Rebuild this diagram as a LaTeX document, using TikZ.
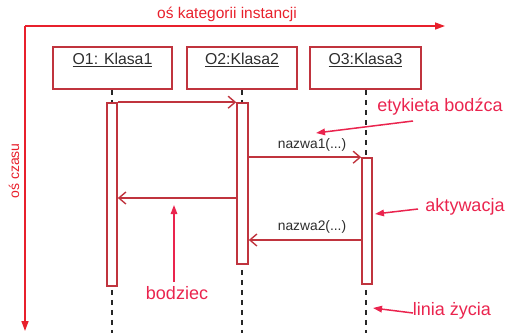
\documentclass[tikz,border=0pt]{standalone}
\usepackage{fontspec}
\setmainfont{Liberation Sans}
\usetikzlibrary{arrows.meta}
\definecolor{boxred}{RGB}{192,52,62}
\definecolor{axisred}{RGB}{232,32,44}
\definecolor{notered}{RGB}{234,36,78}
\definecolor{msgtext}{RGB}{45,45,45}
\tikzset{
  objbox/.style={draw=boxred, line width=1.6pt, fill=white, minimum width=119pt, minimum height=42pt, inner sep=0pt},
  objlabel/.style={text=msgtext, font=\fontsize{15.8}{18}\selectfont},
  actbox/.style={draw=boxred, line width=1.6pt, fill=white, minimum width=10pt, inner sep=0pt},
  lifeline/.style={draw=black!85, line width=1.3pt, dash pattern=on 5.5pt off 4.5pt},
  msg/.style={draw=boxred, line width=1.5pt, -{Straight Barb[length=7pt,width=12pt,line width=1.4pt]}},
  msglabel/.style={text=msgtext, font=\fontsize{13.8}{16}\selectfont},
  axis/.style={draw=axisred, line width=1.5pt, -{Triangle[length=10pt,width=7pt]}},
  axislabel/.style={text=axisred, font=\fontsize{15.5}{18}\selectfont},
  note/.style={text=notered, font=\fontsize{18}{21}\selectfont},
  notearrow/.style={draw=notered, line width=1.5pt, -{Triangle[length=9pt,width=6.5pt]}},
}
\begin{document}
\begin{tikzpicture}[x=1pt,y=-1pt]
\useasboundingbox (0,0) rectangle (508,333);

% axes
\coordinate (origin) at (25,26);
\coordinate (xend) at (445,26);
\coordinate (yend) at (25,331);
\draw[axis] (origin) -- (xend);
\draw[axis] (origin) -- (yend);
\node[axislabel] (xlab) at (227,14) {oś kategorii instancji};
\node[axislabel, font=\fontsize{14}{16}\selectfont, rotate=90] (ylab) at (14,171) {oś czasu};

% objects
\node[objbox] (o1) at (112.5,68) {};
\node[objbox, minimum width=110pt] (o2) at (242,68) {};
\node[objbox, minimum width=111pt] (o3) at (365.5,68) {};
\node[objlabel] (l1) at (112.5,60) {\underline{O1: Klasa1}};
\node[objlabel] (l2) at (242,60) {\underline{O2:Klasa2}};
\node[objlabel] (l3) at (365.5,60) {\underline{O3:Klasa3}};

% lifelines
\coordinate (e1) at (112,333);
\coordinate (e2) at (242,333);
\coordinate (e3) at (366,333);
\draw[lifeline] (o1.south -| e1) -- (e1);
\draw[lifeline] (o2.south -| e2) -- (e2);
\draw[lifeline] (o3.south -| e3) -- (e3);

% activations
\node[actbox, minimum height=183pt] (a1) at (112,194.5) {};
\node[actbox, minimum width=11pt, minimum height=161pt] (a2) at (242.5,183.5) {};
\node[actbox, minimum height=126pt] (a3) at (367,221) {};

% messages
\coordinate (m3) at (0,198);
\coordinate (m4) at (0,240);
\draw[msg] (a1.north east) -- (a2.north west);
\draw[msg] (a2.east |- a3.north) -- (a3.north west);
\draw[msg] (a2.west |- m3) -- (a1.east |- m3);
\draw[msg] (a3.west |- m4) -- (a2.east |- m4);
\node[msglabel, anchor=south] (n1) at (312,155) {nazwa1(...)};
\node[msglabel, anchor=south] (n2) at (312,237) {nazwa2(...)};

% annotations
\node[note] (t1) at (440,107) {etykieta bodźca};
\coordinate (t1s) at (413,121);
\coordinate (t1e) at (316,133);
\draw[notearrow] (t1s) -- (t1e);

\node[note] (t2) at (465,207) {aktywacja};
\coordinate (t2s) at (418,209);
\coordinate (t2e) at (375,214);
\draw[notearrow] (t2s) -- (t2e);

\node[note] (t3) at (177,293) {bodziec};
\coordinate (t3s) at (174,282);
\coordinate (t3e) at (174,205);
\draw[notearrow] (t3s) -- (t3e);

\node[note] (t4) at (452,311) {linia życia};
\coordinate (t4s) at (413,313);
\coordinate (t4e) at (373,308);
\draw[notearrow] (t4s) -- (t4e);
\end{tikzpicture}
\end{document}
